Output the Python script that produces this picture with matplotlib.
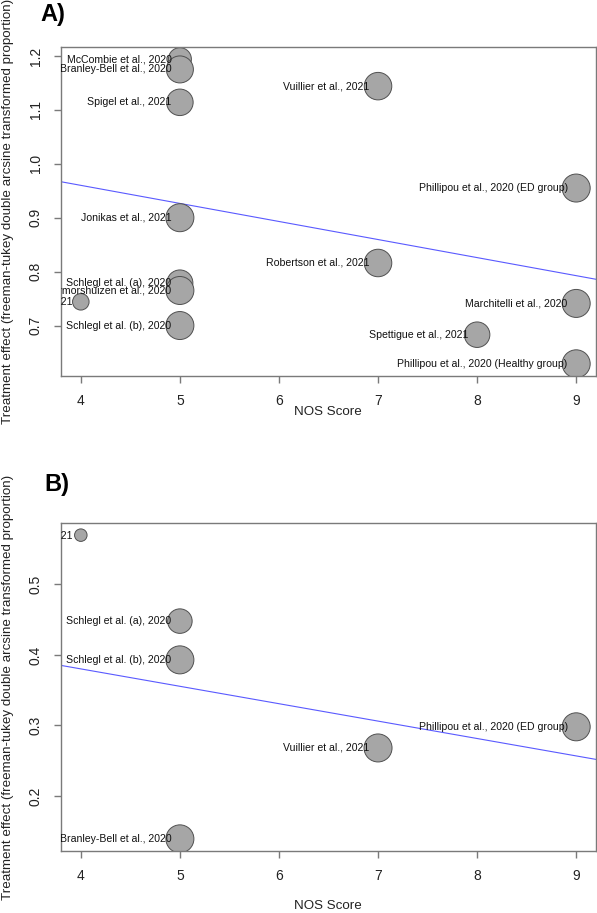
import matplotlib.pyplot as plt
import numpy as np
from matplotlib.transforms import ScaledTranslation

plt.rcParams["font.family"] = ["Liberation Sans", "DejaVu Sans"]

# Panel A
a_labels = [
    "McCombie et al., 2020", "Branley-Bell et al., 2020", "Spigel et al., 2021",
    "Vuillier et al., 2021", "Phillipou et al., 2020 (ED group)", "Jonikas et al., 2021",
    "Robertson et al., 2021", "Schlegl et al. (a), 2020", "Termorshuizen et al., 2020",
    "Castellini et al., 2021", "Schlegl et al. (b), 2020", "Marchitelli et al., 2020",
    "Spettigue et al., 2021", "Phillipou et al., 2020 (Healthy group)",
]
a_nos = [5, 5, 5, 7, 9, 5, 7, 5, 5, 4, 5, 9, 8, 9]
a_effect = [1.194, 1.175, 1.114, 1.144, 0.955, 0.900, 0.816, 0.779, 0.765,
            0.744, 0.700, 0.741, 0.683, 0.629]
a_weight = [23, 27, 26.5, 27.5, 28, 28, 27.5, 26, 28, 16.5, 28, 28, 25.5, 28]
a_intercept, a_slope = 1.094, -0.0335

# Panel B
b_labels = [
    "Castellini et al., 2021", "Schlegl et al. (a), 2020", "Schlegl et al. (b), 2020",
    "Branley-Bell et al., 2020", "Vuillier et al., 2021", "Phillipou et al., 2020 (ED group)",
]
b_nos = [4, 5, 5, 5, 7, 9]
b_effect = [0.570, 0.448, 0.393, 0.139, 0.268, 0.298]
b_weight = [12.5, 24.5, 28, 28, 28, 28]
b_intercept, b_slope = 0.479, -0.0247

ylab = "Treatment effect (freeman-tukey double arcsine transformed proportion)"

W, H = 597, 913
fig = plt.figure(figsize=(W / 100, H / 100), dpi=100)


def panel(rect, nos, effect, weight, labels, intercept, slope, yticks):
    ax = fig.add_axes(rect)
    xs = np.array([3.8, 9.2])
    ax.plot(xs, intercept + slope * xs, color="#5a5aff", lw=0.8, zorder=1)
    size = (np.array(weight) * 0.72) ** 2
    ax.scatter(nos, effect, s=size, facecolor="#a6a6a6", edgecolor="#505050",
               linewidth=0.7, zorder=2)
    shift = ax.transData + ScaledTranslation(-0.085, 0, fig.dpi_scale_trans)
    for x, y, lab in zip(nos, effect, labels):
        ax.text(x, y, lab, transform=shift, ha="right", va="center",
                fontsize=7.6, color="#111111", clip_on=True, zorder=3)
    lo, hi = min(effect), max(effect)
    r = hi - lo
    ax.set_ylim(lo - 0.04 * r, hi + 0.04 * r)
    ax.set_xlim(3.8, 9.2)
    ax.set_xticks([4, 5, 6, 7, 8, 9])
    ax.set_yticks(yticks)
    ax.set_yticklabels([f"{t:.1f}" for t in yticks], rotation=90, va="center")
    for s in ax.spines.values():
        s.set_color("#7a7a7a")
        s.set_linewidth(1.0)
    ax.tick_params(direction="out", length=5, width=1.0, color="#7a7a7a",
                   labelsize=10, labelcolor="#222222", pad=8)
    return ax


def fy(px):
    return 1 - px / H


axA = panel([61 / W, fy(376), 535 / W, (376 - 47) / H], a_nos, a_effect, a_weight,
            a_labels, a_intercept, a_slope, [0.7, 0.8, 0.9, 1.0, 1.1, 1.2])
axB = panel([61 / W, fy(851), 535 / W, (851 - 523) / H], b_nos, b_effect, b_weight,
            b_labels, b_intercept, b_slope, [0.2, 0.3, 0.4, 0.5])

for yc, ylbl in [((47 + 376) / 2, 412), ((523 + 851) / 2, 906)]:
    fig.text(8 / W, fy(yc), ylab, rotation=90, ha="center", va="center",
             fontsize=9.6, color="#222222")
    fig.text(328 / W, fy(ylbl), "NOS Score", ha="center", va="center",
             fontsize=9.6, color="#222222")

fig.text(40 / W, fy(14), "A)", fontsize=17, fontweight="bold", va="center", ha="left")
fig.text(44 / W, fy(485), "B)", fontsize=17, fontweight="bold", va="center", ha="left")

fig.savefig("out.png", dpi=100)
